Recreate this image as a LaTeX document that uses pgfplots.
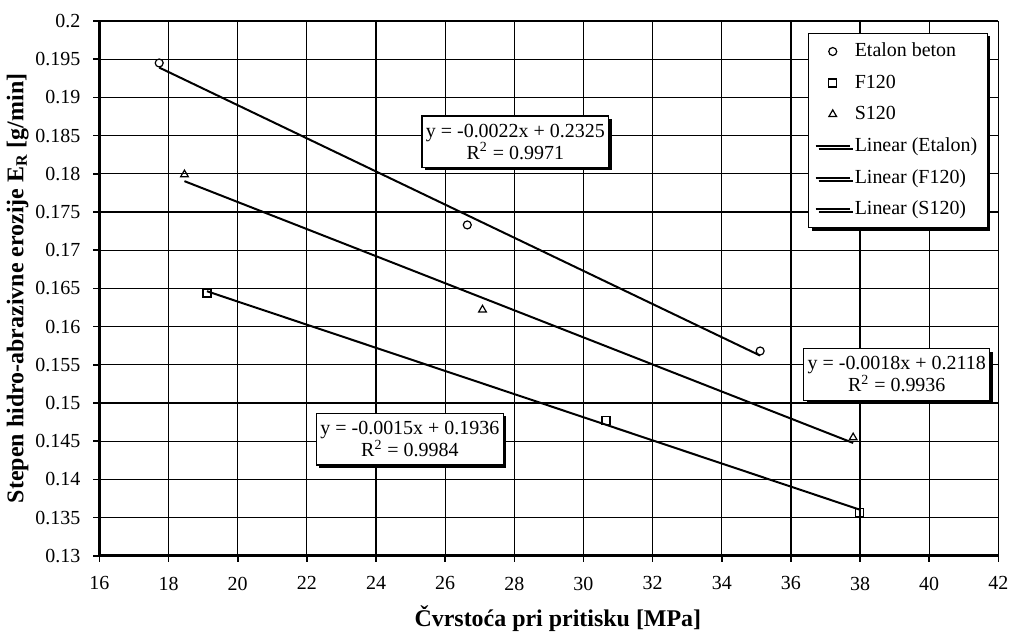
\documentclass[border=0pt]{standalone}
\usepackage{fontspec}
\setmainfont{Liberation Serif}
\usepackage{pgfplots}
\pgfplotsset{compat=1.18}
\usetikzlibrary{shadows}
\tikzset{boxshadow/.style={general shadow={fill=black, shadow xshift=1.5pt, shadow yshift=-1.5pt}},
  eqbox/.style={draw=black, fill=white, line width=0.6pt, align=center, inner xsep=2pt, inner ysep=4pt,
  font=\fontsize{10}{11}\selectfont, boxshadow}}
\begin{document}
\begin{tikzpicture}
\begin{axis}[
  width=450.5pt, height=268pt, scale only axis,
  xmin=16, xmax=42, ymin=0.13, ymax=0.2,
  xtick={16,18,...,42},
  ytick={0.13,0.135,0.14,0.145,0.15,0.155,0.16,0.165,0.17,0.175,0.18,0.185,0.19,0.195,0.2},
  axis lines=left,
  axis line style={-, line width=1.4pt},
  grid=major,
  major grid style={black, line width=0.6pt},
  tick align=outside, major tick length=3pt,
  tick style={black, line width=0.8pt},
  scaled y ticks=false,
  /pgf/number format/assume math mode=true,
  yticklabel style={/pgf/number format/.cd, fixed, precision=3, /tikz/.cd, xshift=-3pt},
  xticklabel style={yshift=-4pt},
  tick label style={font=\fontsize{10}{12}\selectfont},
  xlabel={Čvrstoća pri pritisku [MPa]},
  ylabel={Stepen hidro-abrazivne erozije E\textsubscript{R} [g/min]},
  label style={font=\fontsize{12}{14}\selectfont\bfseries},
  xlabel style={at={(axis description cs:0.51,-0.118)}, anchor=center, inner sep=0pt},
  ylabel style={at={(axis description cs:-0.091,0.5)}, anchor=center},
  legend cell align=left,
  legend style={at={(0.988,0.978)}, anchor=north east, draw=black, fill=white,
    font=\fontsize{10}{12}\selectfont, row sep=3.5pt, inner sep=3pt, boxshadow},
]
\addplot[only marks, mark=o, mark size=2pt, mark options={black, line width=0.6pt}]
  coordinates {(17.73,0.1945) (26.64,0.1733) (35.11,0.1568)};
\addlegendentry{Etalon beton}
\addplot[only marks, mark=square, mark size=2pt, mark options={black, line width=0.6pt}]
  coordinates {(19.11,0.1644) (30.65,0.1477) (37.99,0.1357)};
\addlegendentry{F120}
\addplot[only marks, mark=triangle, mark size=2.2pt, mark options={black, line width=0.6pt}]
  coordinates {(18.46,0.1799) (27.08,0.1622) (37.80,0.14547)};
\addlegendentry{S120}
\addplot[black, line width=1pt, no marks]
  coordinates {(17.73,0.1939) (35.11,0.1562)};
\addlegendentry{Linear (Etalon)}
\addplot[black, line width=1pt, no marks]
  coordinates {(19.11,0.16462) (37.99,0.13603)};
\addlegendentry{Linear (F120)}
\addplot[black, line width=1pt, no marks]
  coordinates {(18.46,0.17903) (37.80,0.14476)};
\addlegendentry{Linear (S120)}

\node[eqbox] at (axis cs:28.03,0.1842)
  {y = -0.0022x + 0.2325\\R\textsuperscript{2} = 0.9971};
\node[eqbox] at (axis cs:24.98,0.14525)
  {y = -0.0015x + 0.1936\\R\textsuperscript{2} = 0.9984};
\node[eqbox] at (axis cs:39.06,0.15374)
  {y = -0.0018x + 0.2118\\R\textsuperscript{2} = 0.9936};
\end{axis}
\path ([yshift=10.5pt]current axis.north);
\end{tikzpicture}
\end{document}
